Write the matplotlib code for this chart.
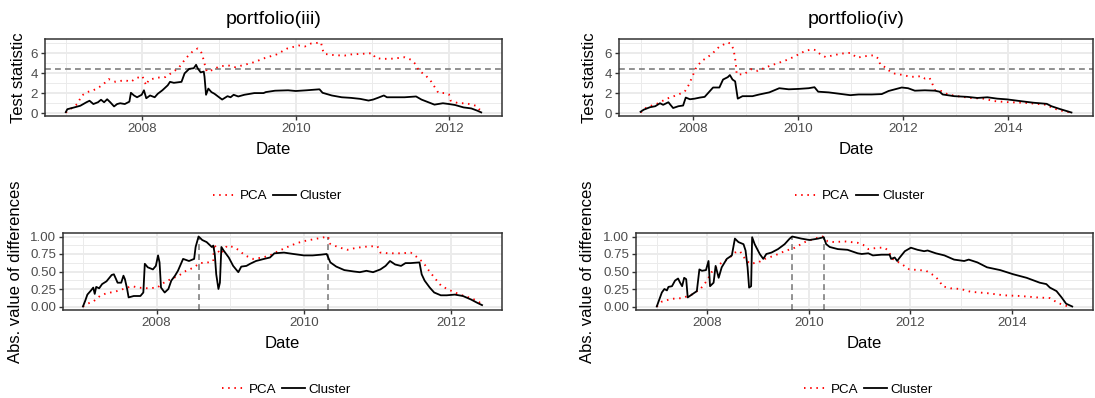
import matplotlib
matplotlib.use("Agg")
import matplotlib.pyplot as plt
from matplotlib.ticker import FixedLocator, FixedFormatter

plt.rcParams["font.family"] = ["Liberation Sans", "DejaVu Sans"]

# ---- portfolio (iii): test statistic ----
tl_cl_x = [2007.00, 2007.02, 2007.11, 2007.19, 2007.27, 2007.31, 2007.36, 2007.42, 2007.46, 2007.50,
           2007.54, 2007.58, 2007.63, 2007.67, 2007.71, 2007.77, 2007.83, 2007.85, 2007.89, 2007.93,
           2007.99, 2008.02, 2008.05, 2008.10, 2008.16, 2008.20, 2008.26, 2008.33, 2008.36, 2008.41,
           2008.51, 2008.55, 2008.61, 2008.67, 2008.70, 2008.72, 2008.76, 2008.80, 2008.81, 2008.83,
           2008.86, 2008.90, 2008.94, 2009.00, 2009.04, 2009.11, 2009.15, 2009.19, 2009.25, 2009.33,
           2009.46, 2009.58, 2009.61, 2009.73, 2009.90, 2010.00, 2010.14, 2010.31, 2010.35, 2010.47,
           2010.60, 2010.72, 2010.84, 2010.95, 2011.01, 2011.07, 2011.15, 2011.19, 2011.30, 2011.42,
           2011.57, 2011.64, 2011.73, 2011.81, 2011.92, 2012.00, 2012.08, 2012.19, 2012.29, 2012.37,
           2012.42]
tl_cl_y = [0.10, 0.40, 0.58, 0.75, 1.10, 1.25, 0.92, 1.10, 1.35, 1.10,
           1.40, 1.10, 0.68, 0.92, 1.00, 0.92, 1.16, 2.05, 1.78, 1.60,
           1.85, 2.30, 1.50, 1.78, 1.60, 1.95, 2.30, 2.80, 3.15, 3.05,
           3.15, 4.00, 4.45, 4.52, 4.86, 4.52, 4.10, 4.18, 3.66, 1.85,
           2.47, 2.12, 1.95, 1.60, 1.37, 1.71, 1.60, 1.85, 1.68, 1.85,
           2.02, 2.02, 2.12, 2.26, 2.30, 2.23, 2.30, 2.40, 2.05, 1.78,
           1.60, 1.54, 1.44, 1.27, 1.37, 1.54, 1.78, 1.60, 1.60, 1.60,
           1.68, 1.37, 1.10, 0.86, 1.00, 0.92, 0.82, 0.58, 0.48, 0.25,
           0.08]
tl_pca_x = [2007.00, 2007.09, 2007.15, 2007.21, 2007.28, 2007.36, 2007.44, 2007.50, 2007.56, 2007.65,
            2007.77, 2007.85, 2007.91, 2008.00, 2008.02, 2008.05, 2008.08, 2008.18, 2008.30, 2008.39,
            2008.47, 2008.57, 2008.65, 2008.72, 2008.76, 2008.78, 2008.80, 2008.82, 2008.84, 2008.92,
            2009.00, 2009.12, 2009.21, 2009.33, 2009.42, 2009.58, 2009.60, 2009.75, 2009.89, 2010.04,
            2010.12, 2010.20, 2010.33, 2010.35, 2010.37, 2010.51, 2010.64, 2010.72, 2010.86, 2011.00,
            2011.04, 2011.13, 2011.27, 2011.42, 2011.50, 2011.55, 2011.61, 2011.69, 2011.77, 2011.86,
            2011.94, 2012.00, 2012.02, 2012.12, 2012.22, 2012.35, 2012.39, 2012.42]
tl_pca_y = [0.07, 0.58, 0.92, 1.78, 2.12, 2.30, 2.64, 2.98, 3.42, 3.15,
            3.32, 3.15, 3.49, 3.73, 3.30, 2.80, 3.32, 3.56, 3.63, 4.10,
            4.52, 5.55, 6.16, 6.50, 6.23, 5.90, 5.27, 4.70, 4.18, 4.35,
            4.70, 4.80, 4.62, 4.86, 5.03, 5.48, 5.55, 5.90, 6.50, 6.80,
            6.70, 7.00, 7.10, 6.40, 5.96, 5.82, 5.79, 5.90, 5.96, 6.03,
            5.55, 5.45, 5.48, 5.62, 5.38, 5.03, 4.25, 3.84, 3.15, 2.05,
            2.02, 1.88, 1.27, 1.00, 1.00, 0.75, 0.41, 0.30]

# ---- portfolio (iv): test statistic ----
tr_cl_x = [2007.00, 2007.06, 2007.18, 2007.28, 2007.37, 2007.43, 2007.53, 2007.58, 2007.62, 2007.72,
           2007.81, 2007.86, 2007.94, 2008.03, 2008.13, 2008.22, 2008.28, 2008.38, 2008.50, 2008.57,
           2008.66, 2008.70, 2008.75, 2008.80, 2008.85, 2008.94, 2009.13, 2009.26, 2009.45, 2009.64,
           2009.82, 2010.01, 2010.20, 2010.31, 2010.38, 2010.58, 2010.83, 2010.99, 2011.15, 2011.40,
           2011.59, 2011.72, 2011.87, 2011.97, 2012.09, 2012.22, 2012.41, 2012.60, 2012.69, 2012.75,
           2012.97, 2013.22, 2013.41, 2013.60, 2013.79, 2013.97, 2014.22, 2014.48, 2014.73, 2014.82,
           2014.98, 2015.20]
tr_cl_y = [0.14, 0.35, 0.60, 0.70, 1.00, 0.84, 1.10, 0.77, 0.52, 0.70,
           0.77, 1.57, 1.40, 1.46, 1.57, 1.64, 1.99, 2.58, 2.58, 3.38,
           3.62, 3.83, 3.38, 3.20, 1.46, 1.71, 1.71, 1.88, 2.09, 2.51,
           2.40, 2.44, 2.51, 2.61, 2.16, 2.09, 1.92, 1.81, 1.88, 1.88,
           1.92, 2.23, 2.44, 2.58, 2.51, 2.26, 2.30, 2.26, 2.16, 1.88,
           1.71, 1.64, 1.53, 1.60, 1.46, 1.39, 1.22, 1.05, 0.94, 0.70,
           0.42, 0.07]
tr_pca_x = [2007.00, 2007.12, 2007.31, 2007.50, 2007.69, 2007.84, 2007.92, 2007.99, 2008.06, 2008.16,
            2008.28, 2008.38, 2008.50, 2008.66, 2008.72, 2008.77, 2008.81, 2008.83, 2008.97, 2009.10,
            2009.23, 2009.38, 2009.57, 2009.76, 2009.91, 2010.01, 2010.14, 2010.26, 2010.33, 2010.42,
            2010.52, 2010.67, 2010.83, 2010.99, 2011.03, 2011.12, 2011.25, 2011.44, 2011.53, 2011.56,
            2011.66, 2011.75, 2011.84, 2012.00, 2012.13, 2012.25, 2012.34, 2012.41, 2012.50, 2012.56,
            2012.60, 2012.72, 2012.85, 2013.03, 2013.28, 2013.54, 2013.72, 2013.97, 2014.29, 2014.54,
            2014.73, 2014.85, 2015.04, 2015.20]
tr_pca_y = [0.07, 0.60, 0.94, 1.46, 1.81, 2.16, 2.86, 3.73, 4.60, 5.23,
            5.64, 6.06, 6.69, 7.10, 6.97, 6.41, 5.12, 3.90, 3.90, 4.42,
            4.25, 4.60, 4.95, 5.30, 5.64, 5.92, 6.27, 6.41, 6.34, 5.92,
            5.64, 5.82, 5.99, 6.06, 5.92, 5.57, 5.71, 5.82, 5.47, 4.88,
            4.60, 4.18, 3.97, 3.83, 3.66, 3.66, 3.73, 3.48, 3.55, 2.86,
            2.33, 2.23, 1.88, 1.71, 1.53, 1.46, 1.22, 1.11, 1.05, 0.94,
            0.84, 0.49, 0.21, 0.07]

# ---- portfolio (iii): absolute differences ----
bl_cl_x = [2007.00, 2007.03, 2007.06, 2007.11, 2007.14, 2007.16, 2007.18, 2007.22, 2007.26, 2007.32,
           2007.39, 2007.42, 2007.45, 2007.47, 2007.52, 2007.55, 2007.57, 2007.60, 2007.62, 2007.69,
           2007.78, 2007.82, 2007.84, 2007.88, 2007.95, 2007.99, 2008.02, 2008.04, 2008.06, 2008.11,
           2008.16, 2008.20, 2008.25, 2008.29, 2008.36, 2008.44, 2008.51, 2008.53, 2008.57, 2008.62,
           2008.68, 2008.75, 2008.77, 2008.79, 2008.81, 2008.84, 2008.86, 2008.88, 2008.91, 2008.98,
           2009.04, 2009.11, 2009.15, 2009.22, 2009.27, 2009.35, 2009.46, 2009.54, 2009.60, 2009.73,
           2009.86, 2010.00, 2010.12, 2010.23, 2010.31, 2010.36, 2010.44, 2010.55, 2010.68, 2010.76,
           2010.85, 2010.94, 2011.04, 2011.11, 2011.17, 2011.24, 2011.32, 2011.38, 2011.45, 2011.57,
           2011.60, 2011.64, 2011.71, 2011.77, 2011.86, 2011.94, 2012.05, 2012.16, 2012.27, 2012.36,
           2012.42]
bl_cl_y = [0.00, 0.08, 0.17, 0.23, 0.27, 0.18, 0.28, 0.26, 0.32, 0.36,
           0.45, 0.46, 0.39, 0.34, 0.34, 0.44, 0.39, 0.25, 0.13, 0.15,
           0.15, 0.20, 0.61, 0.56, 0.53, 0.58, 0.73, 0.63, 0.27, 0.20,
           0.25, 0.37, 0.44, 0.51, 0.68, 0.65, 0.68, 0.85, 1.00, 0.95,
           0.92, 0.85, 0.87, 0.75, 0.46, 0.25, 0.34, 0.85, 0.80, 0.70,
           0.58, 0.49, 0.57, 0.58, 0.61, 0.65, 0.68, 0.70, 0.76, 0.77,
           0.75, 0.73, 0.73, 0.74, 0.75, 0.63, 0.57, 0.52, 0.50, 0.49,
           0.51, 0.49, 0.53, 0.58, 0.65, 0.60, 0.58, 0.62, 0.62, 0.63,
           0.46, 0.37, 0.27, 0.20, 0.16, 0.16, 0.17, 0.15, 0.10, 0.05,
           0.02]
bl_pca_x = [2007.00, 2007.06, 2007.14, 2007.23, 2007.32, 2007.43, 2007.52, 2007.60, 2007.67, 2007.75,
            2007.88, 2008.01, 2008.10, 2008.19, 2008.30, 2008.40, 2008.49, 2008.59, 2008.70, 2008.77,
            2008.78, 2008.83, 2008.87, 2008.96, 2009.04, 2009.11, 2009.20, 2009.31, 2009.44, 2009.54,
            2009.65, 2009.82, 2009.92, 2010.03, 2010.18, 2010.33, 2010.35, 2010.46, 2010.59, 2010.72,
            2010.89, 2011.00, 2011.04, 2011.15, 2011.33, 2011.45, 2011.53, 2011.62, 2011.70, 2011.79,
            2011.87, 2012.01, 2012.12, 2012.24, 2012.36, 2012.42]
bl_pca_y = [0.00, 0.04, 0.07, 0.15, 0.19, 0.21, 0.24, 0.27, 0.29, 0.27,
            0.26, 0.27, 0.34, 0.39, 0.44, 0.51, 0.55, 0.62, 0.63, 0.65,
            0.89, 0.80, 0.75, 0.87, 0.85, 0.81, 0.73, 0.68, 0.70, 0.73,
            0.79, 0.87, 0.91, 0.94, 0.97, 1.00, 0.90, 0.85, 0.81, 0.84,
            0.86, 0.86, 0.77, 0.76, 0.76, 0.77, 0.71, 0.63, 0.51, 0.39,
            0.29, 0.22, 0.17, 0.13, 0.08, 0.03]

# ---- portfolio (iv): absolute differences ----
br_cl_x = [2007.00, 2007.05, 2007.10, 2007.15, 2007.20, 2007.23, 2007.30, 2007.36, 2007.42, 2007.46,
           2007.50, 2007.54, 2007.58, 2007.61, 2007.69, 2007.79, 2007.84, 2007.89, 2007.97, 2008.02,
           2008.05, 2008.12, 2008.16, 2008.22, 2008.28, 2008.38, 2008.48, 2008.54, 2008.61, 2008.71,
           2008.75, 2008.79, 2008.82, 2008.86, 2008.88, 2008.93, 2009.03, 2009.10, 2009.16, 2009.26,
           2009.39, 2009.52, 2009.62, 2009.67, 2009.85, 2010.01, 2010.18, 2010.29, 2010.34, 2010.41,
           2010.57, 2010.76, 2010.96, 2011.04, 2011.17, 2011.26, 2011.43, 2011.59, 2011.62, 2011.69,
           2011.74, 2011.79, 2011.89, 2012.01, 2012.14, 2012.27, 2012.34, 2012.50, 2012.67, 2012.86,
           2013.06, 2013.15, 2013.32, 2013.51, 2013.77, 2014.03, 2014.29, 2014.55, 2014.68, 2014.75,
           2014.88, 2014.98, 2015.07, 2015.19]
br_cl_y = [0.00, 0.10, 0.20, 0.25, 0.23, 0.28, 0.29, 0.37, 0.40, 0.34,
           0.29, 0.41, 0.39, 0.13, 0.17, 0.22, 0.53, 0.51, 0.52, 0.65,
           0.29, 0.34, 0.58, 0.41, 0.56, 0.68, 0.73, 0.97, 0.92, 0.89,
           0.80, 0.56, 0.27, 0.29, 0.99, 0.89, 0.75, 0.68, 0.75, 0.77,
           0.82, 0.89, 0.97, 1.00, 0.97, 0.95, 0.97, 0.99, 0.89, 0.85,
           0.82, 0.81, 0.76, 0.75, 0.76, 0.73, 0.74, 0.74, 0.68, 0.70,
           0.65, 0.70, 0.79, 0.84, 0.81, 0.79, 0.80, 0.76, 0.73, 0.67,
           0.65, 0.67, 0.63, 0.56, 0.52, 0.46, 0.41, 0.34, 0.32, 0.27,
           0.22, 0.13, 0.04, 0.00]
br_pca_x = [2007.00, 2007.10, 2007.30, 2007.50, 2007.69, 2007.86, 2007.99, 2008.08, 2008.25, 2008.41,
            2008.54, 2008.64, 2008.74, 2008.84, 2009.00, 2009.13, 2009.33, 2009.52, 2009.72, 2009.92,
            2010.11, 2010.27, 2010.37, 2010.50, 2010.70, 2010.96, 2011.07, 2011.17, 2011.37, 2011.49,
            2011.56, 2011.65, 2011.82, 2011.98, 2012.18, 2012.31, 2012.47, 2012.57, 2012.63, 2012.79,
            2012.99, 2013.19, 2013.52, 2013.84, 2014.17, 2014.49, 2014.75, 2014.91, 2015.07, 2015.17]
br_pca_y = [0.00, 0.07, 0.11, 0.12, 0.17, 0.25, 0.37, 0.49, 0.61, 0.68,
            0.77, 0.79, 0.68, 0.61, 0.63, 0.68, 0.73, 0.79, 0.84, 0.92,
            0.97, 1.00, 0.93, 0.92, 0.93, 0.91, 0.88, 0.82, 0.84, 0.84,
            0.80, 0.68, 0.61, 0.53, 0.52, 0.51, 0.44, 0.37, 0.29, 0.26,
            0.25, 0.21, 0.19, 0.16, 0.15, 0.13, 0.12, 0.05, 0.01, 0.00]

crit_value = 4.47
bl_peaks = [2008.57, 2010.33]
br_peaks = [2009.67, 2010.29]

W, H = 1095, 398
fig = plt.figure(figsize=(W / 100, H / 100), dpi=100)

GRID = "#EBEBEB"
DARK = "#333333"
DOTTED = (0, (0.8, 2.5))
DASHED = (0, (3.5, 2.5))


def add_panel(l, t, r, b):
    return fig.add_axes([l / W, 1 - b / H, (r - l) / W, (b - t) / H])


def expand(vals, f=0.05):
    lo, hi = min(vals), max(vals)
    d = (hi - lo) * f
    return lo - d, hi + d


def draw(ax, box, cl_x, cl_y, pca_x, pca_y, yticks, ylabels, yminor, xticks, xminor,
         ylab, ylab_px, title=None):
    l, t, r, b = box
    ax.set_xlim(*expand(cl_x + pca_x))
    ax.set_ylim(*expand(cl_y + pca_y))

    for v in xminor:
        ax.axvline(v, color=GRID, lw=0.7, zorder=0)
    for v in yminor:
        ax.axhline(v, color=GRID, lw=0.7, zorder=0)
    for v in xticks:
        ax.axvline(v, color=GRID, lw=1.4, zorder=0)
    for v in yticks:
        ax.axhline(v, color=GRID, lw=1.4, zorder=0)

    pca, = ax.plot(pca_x, pca_y, color="red", lw=1.35, ls=DOTTED, label="PCA", zorder=3)
    cl, = ax.plot(cl_x, cl_y, color="black", lw=1.3, label="Cluster", zorder=3)

    ax.xaxis.set_major_locator(FixedLocator(xticks))
    ax.xaxis.set_major_formatter(FixedFormatter([str(v) for v in xticks]))
    ax.yaxis.set_major_locator(FixedLocator(yticks))
    ax.yaxis.set_major_formatter(FixedFormatter(ylabels))
    ax.tick_params(length=2.75, width=1.0, color=DARK, pad=2.2,
                   labelsize=9.6, labelcolor="#4D4D4D")
    for s in ax.spines.values():
        s.set_color(DARK)
        s.set_linewidth(1.1)
        s.set_zorder(4)

    h = b - t
    ax.set_xlabel("Date", fontsize=12)
    ax.xaxis.set_label_coords(0.5, -(33 / h))
    ax.xaxis.label.set_va("center")
    ax.set_ylabel(ylab, fontsize=12)
    ax.yaxis.set_label_coords((ylab_px - l) / (r - l), 0.5)
    ax.yaxis.label.set_va("center")

    if title:
        ax.set_title(title, fontsize=14, y=(b - 20) / h, va="center", pad=0)

    ax.legend(handles=[pca, cl], ncol=2, loc="center",
              bbox_to_anchor=(0.5 + 4 / (r - l), -(80 / h)), frameon=False,
              fontsize=9.6, handlelength=1.7, handletextpad=0.3, columnspacing=0.45,
              borderaxespad=0)
    return ax


top_ticks = [0, 2, 4, 6]
top_labels = ["0", "2", "4", "6"]
top_minor = [1, 3, 5, 7]
bot_ticks = [0, 0.25, 0.5, 0.75, 1.0]
bot_labels = ["0.00", "0.25", "0.50", "0.75", "1.00"]
bot_minor = [0.125, 0.375, 0.625, 0.875]

box = (45, 39, 502, 116)
ax = draw(add_panel(*box), box, tl_cl_x, tl_cl_y, tl_pca_x, tl_pca_y,
          top_ticks, top_labels, top_minor, [2008, 2010, 2012], [2007, 2009, 2011],
          "Test statistic", 19, "portfolio(iii)")
ax.axhline(crit_value, color="#7F7F7F", lw=1.2, ls=DASHED, zorder=2)

box = (619, 39, 1093, 116)
ax = draw(add_panel(*box), box, tr_cl_x, tr_cl_y, tr_pca_x, tr_pca_y,
          top_ticks, top_labels, top_minor, [2008, 2010, 2012, 2014],
          [2007, 2009, 2011, 2013, 2015], "Test statistic", 589, "portfolio(iv)")
ax.axhline(crit_value, color="#7F7F7F", lw=1.2, ls=DASHED, zorder=2)

box = (63, 233, 502, 310)
ax = draw(add_panel(*box), box, bl_cl_x, bl_cl_y, bl_pca_x, bl_pca_y,
          bot_ticks, bot_labels, bot_minor, [2008, 2010, 2012], [2007, 2009, 2011],
          "Abs. value of differences", 16)
ax.vlines(bl_peaks, ax.get_ylim()[0], 1.0, color="#7F7F7F", lw=1.2,
          linestyles=[DASHED], zorder=2)

box = (636, 233, 1093, 310)
ax = draw(add_panel(*box), box, br_cl_x, br_cl_y, br_pca_x, br_pca_y,
          bot_ticks, bot_labels, bot_minor, [2008, 2010, 2012, 2014],
          [2007, 2009, 2011, 2013, 2015], "Abs. value of differences", 588)
ax.vlines(br_peaks, ax.get_ylim()[0], 1.0, color="#7F7F7F", lw=1.2,
          linestyles=[DASHED], zorder=2)

fig.savefig("out.png", dpi=100)
